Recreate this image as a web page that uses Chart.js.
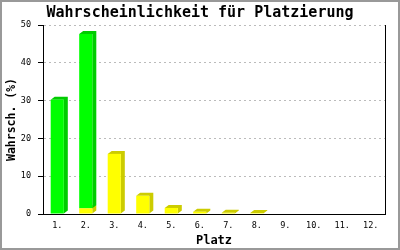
<!DOCTYPE html>
<html><head><meta charset="utf-8">
<script src="https://cdn.jsdelivr.net/npm/chart.js@4"></script>
<style>html,body{margin:0;padding:0;background:#fff}#wrap{width:400px;height:250px;position:relative}</style>
</head><body><div id="wrap"><canvas id="c" width="400" height="250"></canvas></div>
<script>
const categories = ['1.','2.','3.','4.','5.','6.','7.','8.','9.','10.','11.','12.'];
const yellowValues = [0, 1.5, 15.9, 4.8, 1.6, 0.6, 0.3, 0.25, 0, 0, 0, 0];
const greenValues = [30.2, 46.1, 0, 0, 0, 0, 0, 0, 0, 0, 0, 0];
const yTicks = [0, 10, 20, 30, 40, 50];
const chartTitle = 'Wahrscheinlichkeit für Platzierung';
const yTitle = 'Wahrsch. (%)';
const xTitle = 'Platz';

Chart.defaults.font.family = "'DejaVu Sans Mono', monospace";
Chart.defaults.color = '#000';

const depthPlugin = {
  id: 'depth',
  beforeDatasetsDraw(chart) {
    const ctx = chart.ctx;
    const dx = 4, dy = 3;
    chart.data.datasets.forEach((ds, i) => {
      const meta = chart.getDatasetMeta(i);
      meta.data.forEach((bar, j) => {
        if (!ds.data[j]) return;
        const p = bar.getProps(['x', 'y', 'base', 'width'], true);
        const L = p.x - p.width / 2, R = p.x + p.width / 2;
        const T = Math.min(p.y, p.base), B = Math.max(p.y, p.base);
        ctx.save();
        ctx.fillStyle = ds.sideColor;
        ctx.beginPath();
        ctx.moveTo(L, T);
        ctx.lineTo(L + dx, T - dy);
        ctx.lineTo(R + dx, T - dy);
        ctx.lineTo(R + dx, B - dy);
        ctx.lineTo(R, B);
        ctx.lineTo(R, T);
        ctx.closePath();
        ctx.fill();
        ctx.restore();
      });
    });
  }
};

const framePlugin = {
  id: 'frame',
  afterDraw(chart) {
    const ctx = chart.ctx;
    ctx.save();
    ctx.strokeStyle = '#999';
    ctx.lineWidth = 2;
    ctx.strokeRect(1, 1, 398, 248);
    ctx.restore();
  }
};

const bgPlugin = {
  id: 'bg',
  beforeDraw(chart) {
    const ctx = chart.ctx;
    ctx.save();
    ctx.fillStyle = '#fff';
    ctx.fillRect(0, 0, chart.width, chart.height);
    ctx.restore();
  }
};

new Chart(document.getElementById('c'), {
  type: 'bar',
  data: {
    labels: categories,
    datasets: [
      { data: yellowValues, backgroundColor: '#ffff00', sideColor: '#cccc00', borderWidth: 0 },
      { data: greenValues, backgroundColor: '#00ff00', sideColor: '#00cc00', borderWidth: 0 }
    ]
  },
  options: {
    responsive: false,
    animation: false,
    devicePixelRatio: 1,
    layout: { padding: 0 },
    datasets: { bar: { barPercentage: 0.46, categoryPercentage: 1 } },
    plugins: {
      legend: { display: false },
      tooltip: { enabled: false },
      title: {
        display: true, text: chartTitle, color: '#000',
        font: { size: 15, weight: 'bold' }, padding: { top: 4, bottom: 3 }
      }
    },
    scales: {
      x: {
        stacked: true,
        grid: { display: false, drawTicks: false },
        border: { display: true, color: '#000', width: 1 },
        ticks: { font: { size: 8.5 }, padding: 7, color: '#000', maxRotation: 0, autoSkip: false },
        title: { display: true, text: xTitle, font: { size: 12, weight: 'bold' }, color: '#000', padding: { top: 0, bottom: 2 } },
        afterFit(s) { s.height = 36; }
      },
      y: {
        stacked: true,
        min: 0, max: 50,
        afterBuildTicks(s) { s.ticks = yTicks.map(v => ({ value: v })); },
        grid: { color: '#bbbbbb', tickColor: '#000', tickLength: 5, tickBorderDash: [], lineWidth: 1 },
        border: { display: true, color: '#000', width: 1, dash: [2, 3] },
        ticks: { font: { size: 8.5 }, padding: 7, color: '#000' },
        title: { display: true, text: yTitle, font: { size: 11.5, weight: 'bold' }, color: '#000', padding: { top: 5, bottom: 0 } },
        afterFit(s) { s.width = 43; }
      },
      yRight: {
        position: 'right',
        min: 0, max: 50,
        grid: { display: false, drawTicks: false },
        border: { display: true, color: '#000', width: 1 },
        ticks: { display: false },
        afterFit(s) { s.width = 15; }
      }
    }
  },
  plugins: [bgPlugin, depthPlugin, framePlugin]
});
</script>
</body></html>
